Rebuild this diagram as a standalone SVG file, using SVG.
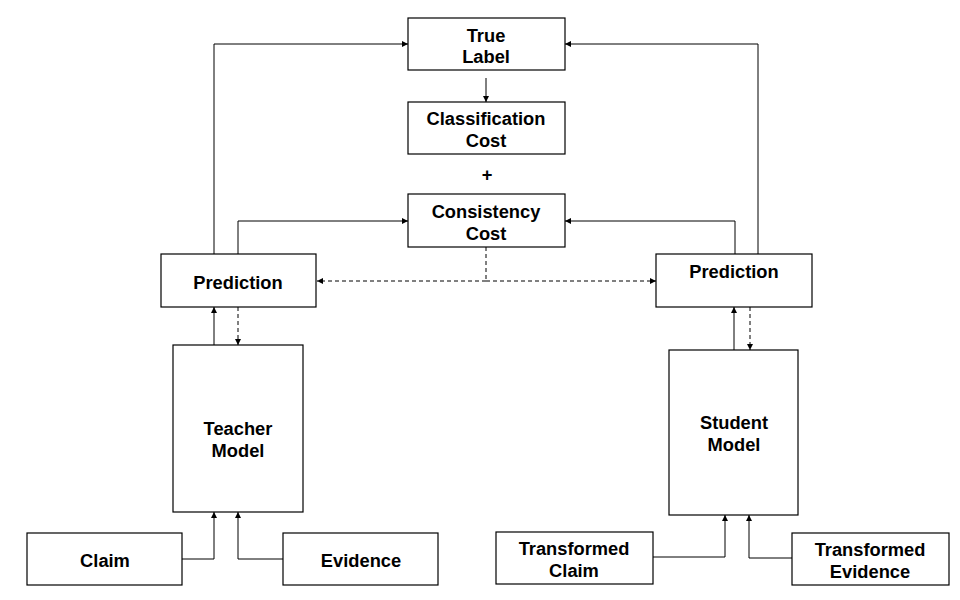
<svg xmlns="http://www.w3.org/2000/svg" width="960" height="600" viewBox="0 0 960 600">
<style>
.box{fill:#fff;stroke:#000;stroke-width:1.2}
.t{font-family:"Liberation Sans",Arial,sans-serif;font-weight:bold;font-size:18.3px;fill:#000;text-anchor:middle}
.c{fill:none;stroke:#000;stroke-width:1}
.d{stroke-dasharray:4,3}
</style>
<defs>
<marker id="ah" markerUnits="userSpaceOnUse" markerWidth="8" markerHeight="8" refX="6" refY="3" orient="auto">
<path d="M0,0 L6,3 L0,6 z" fill="#000"/>
</marker>
</defs>
<rect width="960" height="600" fill="#fff"/>
<g id="true-label"><rect class="box" x="408" y="18" width="157" height="52"/><text class="t" x="486" y="42">True</text><text class="t" x="486" y="63">Label</text></g>
<g id="classification-cost"><rect class="box" x="408" y="102" width="157" height="52"/><text class="t" x="486" y="125">Classification</text><text class="t" x="486" y="147">Cost</text></g>
<g id="plus"><text class="t" x="487" y="181">+</text></g>
<g id="consistency-cost"><rect class="box" x="408" y="194" width="157" height="53"/><text class="t" x="486" y="218">Consistency</text><text class="t" x="486" y="240">Cost</text></g>
<g id="pred-left"><rect class="box" x="161" y="254" width="155" height="53"/><text class="t" x="238" y="289">Prediction</text></g>
<g id="pred-right"><rect class="box" x="656" y="254" width="156" height="53"/><text class="t" x="734" y="278">Prediction</text></g>
<g id="teacher"><rect class="box" x="173" y="345" width="130" height="167"/><text class="t" x="238" y="435">Teacher</text><text class="t" x="238" y="457">Model</text></g>
<g id="student"><rect class="box" x="669" y="350" width="129" height="165"/><text class="t" x="734" y="429">Student</text><text class="t" x="734" y="451">Model</text></g>
<g id="claim"><rect class="box" x="27" y="533" width="155" height="52"/><text class="t" x="105" y="567">Claim</text></g>
<g id="evidence"><rect class="box" x="283" y="533" width="155" height="52"/><text class="t" x="361" y="567">Evidence</text></g>
<g id="t-claim"><rect class="box" x="496" y="532" width="157" height="52"/><text class="t" x="574" y="555">Transformed</text><text class="t" x="574" y="577">Claim</text></g>
<g id="t-evidence"><rect class="box" x="792" y="533" width="157" height="52"/><text class="t" x="870" y="556">Transformed</text><text class="t" x="870" y="578">Evidence</text></g>
<g id="connectors">
<path class="c" d="M214,254 V44 H408" marker-end="url(#ah)"/>
<path class="c" d="M758,254 V44 H565" marker-end="url(#ah)"/>
<path class="c" d="M486,78 V102" marker-end="url(#ah)"/>
<path class="c" d="M238,254 V221 H408" marker-end="url(#ah)"/>
<path class="c" d="M735,254 V221 H565" marker-end="url(#ah)"/>
<path class="c d" d="M486,247 V281"/>
<path class="c d" d="M486,281 H317" marker-end="url(#ah)"/>
<path class="c d" d="M486,281 H656" marker-end="url(#ah)"/>
<path class="c" d="M214,345 V307" marker-end="url(#ah)"/>
<path class="c d" d="M238,307 V345" marker-end="url(#ah)"/>
<path class="c" d="M734,350 V307" marker-end="url(#ah)"/>
<path class="c d" d="M750,307 V350" marker-end="url(#ah)"/>
<path class="c" d="M182,559 H214 V512" marker-end="url(#ah)"/>
<path class="c" d="M283,559 H238 V512" marker-end="url(#ah)"/>
<path class="c" d="M653,557 H725 V515" marker-end="url(#ah)"/>
<path class="c" d="M792,558 H749 V515" marker-end="url(#ah)"/>
</g>
</svg>
